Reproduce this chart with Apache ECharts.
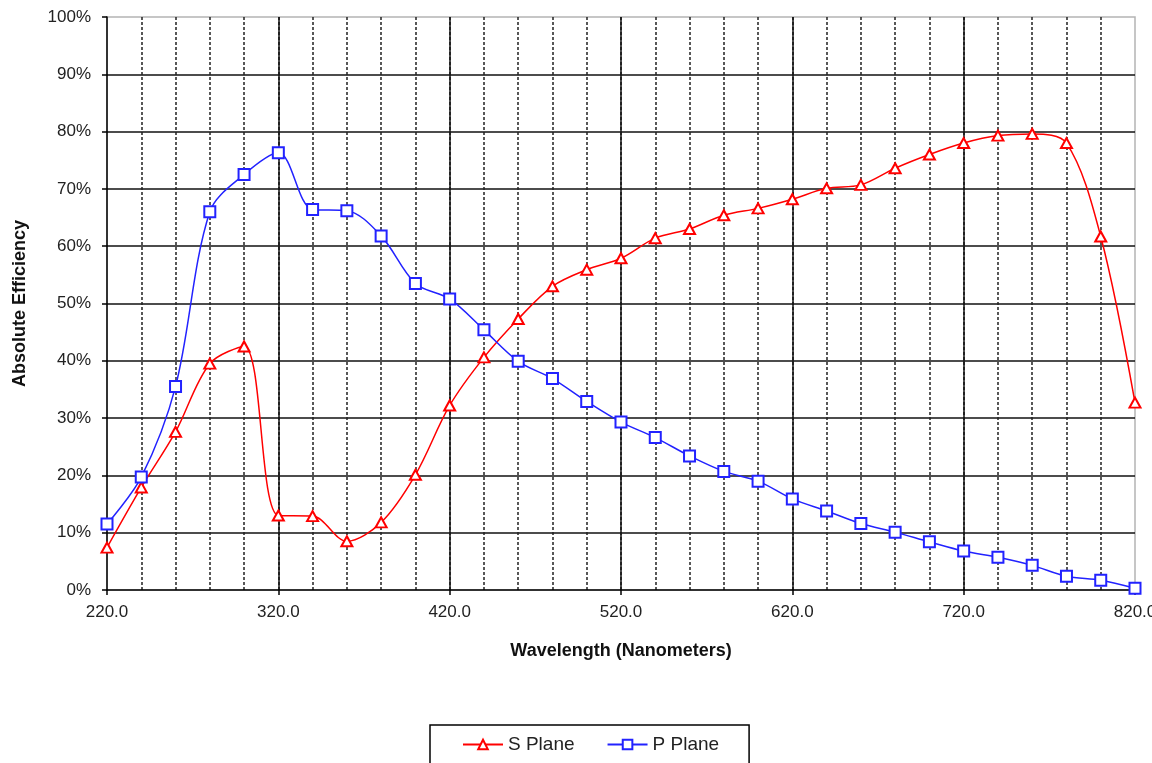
<!DOCTYPE html>
<html><head><meta charset="utf-8">
<script src="https://cdn.jsdelivr.net/npm/echarts@6/dist/echarts.min.js"></script>
<style>html,body{margin:0;padding:0;background:#fff}#c{width:1152px;height:763px}</style>
</head><body><div id="c"></div>
<script>
const wavelengths = [220,240,260,280,300,320,340,360,380,400,420,440,460,480,500,520,540,560,580,600,620,640,660,680,700,720,740,760,780,800,820];
const sPlane = [7.4,17.9,27.6,39.5,42.5,13.0,12.9,8.5,11.8,20.1,32.2,40.6,47.3,53.0,55.9,57.9,61.4,63.0,65.4,66.6,68.2,70.1,70.7,73.6,76.0,78.0,79.3,79.6,78.0,61.7,32.7];
const pPlane = [11.5,19.7,35.5,66.0,72.5,76.3,66.4,66.2,61.8,53.5,50.8,45.4,39.9,36.9,32.9,29.3,26.6,23.4,20.7,19.0,15.9,13.8,11.6,10.1,8.4,6.8,5.7,4.3,2.4,1.7,0.3];
const xTickLabels = [220,320,420,520,620,720,820];
const yTicks = [0,10,20,30,40,50,60,70,80,90,100];

const FONT = '"Liberation Sans", Arial, sans-serif';

const chart = echarts.init(document.getElementById('c'), null, {renderer: 'canvas'});
chart.setOption({
  animation: false,
  backgroundColor: '#fff',
  grid: {left: 107, right: 17, top: 17, bottom: 173, containLabel: false, outerBoundsMode: 'none',
    show: true, borderColor: '#b4b4b4', borderWidth: 1.5, backgroundColor: 'rgba(0,0,0,0)'},
  legend: {
    data: ['S Plane', 'P Plane'],
    left: 430, top: 725,
    padding: [10, 30, 30, 32],
    itemGap: 32, itemWidth: 40, itemHeight: 12,
    borderColor: '#000', borderWidth: 1.5,
    textStyle: {fontFamily: FONT, fontSize: 19, color: '#222'}
  },
  xAxis: [{
    type: 'value', min: wavelengths[0], max: wavelengths[wavelengths.length - 1], interval: 20,
    name: 'Wavelength (Nanometers)', nameLocation: 'middle', nameGap: 52,
    nameTextStyle: {fontFamily: FONT, fontSize: 18, fontWeight: 'bold', color: '#111'},
    axisLine: {show: false}, axisTick: {show: false}, axisLabel: {show: false},
    splitLine: {show: true, showMinLine: false, showMaxLine: false,
      lineStyle: {color: '#222', width: 1.5, type: [3, 2]}}
  }, {
    type: 'value', min: xTickLabels[0], max: xTickLabels[xTickLabels.length - 1], interval: 100, position: 'bottom',
    axisLine: {show: true, onZero: false, lineStyle: {color: '#000', width: 1.5}},
    axisTick: {show: true, length: 5, lineStyle: {color: '#000', width: 1.5}},
    axisLabel: {formatter: v => v.toFixed(1), margin: 14, fontFamily: FONT, fontSize: 17, color: '#222'},
    splitLine: {show: true, showMinLine: false, showMaxLine: false,
      lineStyle: {color: '#111', width: 1.5, type: 'solid'}}
  }],
  yAxis: {
    type: 'value', min: yTicks[0], max: yTicks[yTicks.length - 1], interval: 10,
    name: 'Absolute Efficiency', nameLocation: 'middle', nameGap: 78,
    nameTextStyle: {fontFamily: FONT, fontSize: 18, fontWeight: 'bold', color: '#111'},
    axisLine: {show: true, lineStyle: {color: '#000', width: 1.5}},
    axisTick: {show: true, length: 5, lineStyle: {color: '#000', width: 1.5}},
    axisLabel: {formatter: '{value}%', margin: 16, fontFamily: FONT, fontSize: 17, color: '#222'},
    splitLine: {show: true, showMinLine: false, showMaxLine: false, lineStyle: {color: '#111', width: 1.5}}
  },
  series: [{
    name: 'S Plane', type: 'line', xAxisIndex: 0,
    data: wavelengths.map((w, i) => [w, sPlane[i]]),
    smooth: 0.33,
    symbol: 'emptyTriangle', symbolSize: [11, 10],
    lineStyle: {color: '#ff0000', width: 1.5},
    itemStyle: {color: '#ff0000', borderColor: '#ff0000', borderWidth: 1.5}
  }, {
    name: 'P Plane', type: 'line', xAxisIndex: 0,
    data: wavelengths.map((w, i) => [w, pPlane[i]]),
    smooth: 0.33,
    symbol: 'emptyRect', symbolSize: 11,
    lineStyle: {color: '#2222ff', width: 1.5},
    itemStyle: {color: '#2222ff', borderColor: '#2222ff', borderWidth: 1.5}
  }]
});
</script></body></html>
